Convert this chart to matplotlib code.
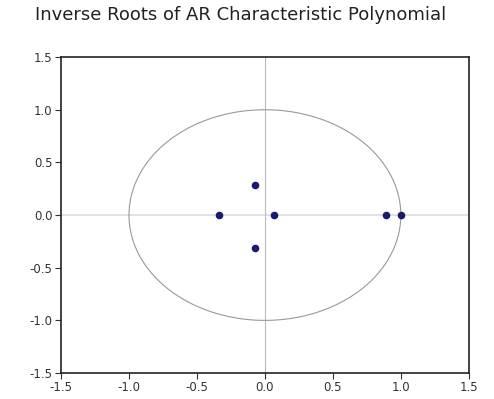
import numpy as np
import matplotlib
matplotlib.use("Agg")
import matplotlib.pyplot as plt

plt.rcParams['font.family'] = ['DejaVu Sans']

# inverse roots (real, imaginary)
root_re = [-0.34, -0.07, -0.07, 0.07, 0.89, 1.0]
root_im = [0.0, 0.29, -0.31, 0.0, 0.0, 0.0]
ticks = [-1.5, -1.0, -0.5, 0.0, 0.5, 1.0, 1.5]
tick_labels = ['-1.5', '-1.0', '-0.5', '0.0', '0.5', '1.0', '1.5']

fig = plt.figure(figsize=(4.94, 3.99), dpi=100)
ax = fig.add_axes([0.1235, 0.065, 0.8255, 0.792])

t = np.linspace(0, 2 * np.pi, 400)
ax.plot(np.cos(t), np.sin(t), color='#999999', lw=0.8)
ax.axhline(0, color='#dddddd', lw=1.2, zorder=0)
ax.axvline(0, color='#bbbbbb', lw=0.8, zorder=0)
ax.scatter(root_re, root_im, s=20, color='#1a1a6e', zorder=3)

ax.set_xlim(-1.5, 1.5)
ax.set_ylim(-1.5, 1.5)
ax.set_xticks(ticks)
ax.set_xticklabels(tick_labels)
ax.set_yticks(ticks)
ax.set_yticklabels(tick_labels)
ax.tick_params(direction='out', length=4, width=0.8, labelsize=8.5, pad=2, colors='#333333')
for s in ax.spines.values():
    s.set_linewidth(1.2)
    s.set_color('#222222')

fig.text(0.071, 0.962, 'Inverse Roots of AR Characteristic Polynomial', fontsize=13,
         ha='left', va='center', color='#222222')

fig.savefig('out.png', dpi=100)
